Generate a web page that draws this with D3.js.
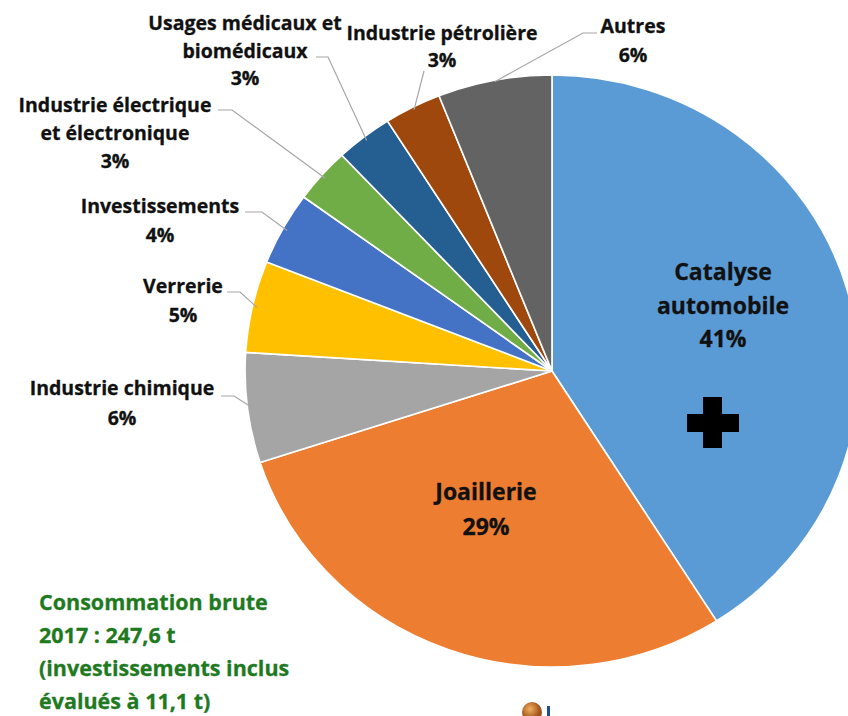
<!DOCTYPE html>
<html>
<head>
<meta charset="utf-8">
<script src="https://cdn.jsdelivr.net/npm/d3@7"></script>
<style>
  html, body { margin: 0; padding: 0; background: #ffffff; }
  svg { display: block; }
  text { font-family: "Open Sans", Lato, sans-serif; font-weight: 700; }
</style>
</head>
<body>
<svg id="chart" width="848" height="716"></svg>
<script>
// Consumption shares by end use (%), clockwise from 12 o'clock
const categories = [
  "Catalyse automobile", "Joaillerie", "Industrie chimique", "Verrerie",
  "Investissements", "Industrie électrique et électronique",
  "Usages médicaux et biomédicaux", "Industrie pétrolière", "Autres"
];
const shares = [41, 29, 6, 5, 4, 3, 3, 3, 6];
const colors = [
  "#5B9BD5", "#ED7D31", "#A5A5A5", "#FFC000", "#4472C4",
  "#70AD47", "#255E91", "#9E480E", "#636363"
];
// Label lines as they are broken on the chart
const labelLines = [
  ["Catalyse", "automobile"],
  ["Joaillerie"],
  ["Industrie chimique"],
  ["Verrerie"],
  ["Investissements"],
  ["Industrie électrique", "et électronique"],
  ["Usages médicaux et", "biomédicaux"],
  ["Industrie pétrolière"],
  ["Autres"]
];
const noteLines = [
  "Consommation brute",
  "2017 : 247,6 t",
  "(investissements inclus",
  "évalués à 11,1 t)"
];

const svg = d3.select("#chart");
const cx = 552, cy = 371, r = 296, sx = 1.037;

const data = categories.map((c, i) => ({ name: c, value: shares[i], color: colors[i], lines: labelLines[i] }));
const pie = d3.pie().value(d => d.value).sort(null);
const arcs = pie(data);
const arc = d3.arc().innerRadius(0).outerRadius(r);

const g = svg.append("g").attr("transform", `translate(${cx},${cy}) scale(${sx},1)`);
g.selectAll("path.slice")
  .data(arcs)
  .join("path")
  .attr("class", "slice")
  .attr("d", arc)
  .attr("fill", d => d.data.color)
  .attr("stroke", "#ffffff")
  .attr("stroke-width", 1.6)
  .attr("stroke-linejoin", "round");

// Point on the (horizontally stretched) rim at a given angle and radius factor
function rim(a, k) {
  return [cx + sx * r * k * Math.sin(a), cy - r * k * Math.cos(a)];
}

// Inside labels for the two large slices
const inside = [
  { i: 0, x: 723, y: 280, lh: 33.5 },
  { i: 1, x: 486, y: 500, lh: 35 }
];
inside.forEach(o => {
  const d = data[o.i];
  const t = svg.append("text").attr("text-anchor", "middle")
    .attr("fill", "#111111").attr("stroke", "#111111").attr("stroke-width", 0.3)
    .style("font-size", "23px");
  d.lines.concat([d.value + "%"]).forEach((s, k) => {
    t.append("tspan").attr("x", o.x).attr("y", o.y + k * o.lh).text(s);
  });
});

// Outside labels: text centre, first baseline, line height, leader start and elbow
const outside = [
  { i: 2, x: 122, y: 395, lh: 30, tx: 221, ex: 234, ey: 396, k: 0.985 },
  { i: 3, x: 183, y: 293, lh: 29, tx: 227, ex: 240, ey: 292, k: 0.985 },
  { i: 4, x: 160, y: 213, lh: 29, tx: 245, ex: 262, ey: 212, k: 0.985 },
  { i: 5, x: 115, y: 112, lh: 28, tx: 218, ex: 232, ey: 110, k: 0.985 },
  { i: 6, x: 245, y: 30, lh: 27.5, tx: 316, ex: 328, ey: 57, k: 0.985 },
  { i: 7, x: 442, y: 40, lh: 27, tx: null, ex: 424, ey: 71, k: 0.99 },
  { i: 8, x: 633, y: 33, lh: 29, tx: 597, ex: 583, ey: 33, k: 0.995 }
];

outside.forEach(o => {
  const d = data[o.i];
  const a = arcs[o.i];
  const mid = (a.startAngle + a.endAngle) / 2;
  const p = rim(mid, o.k);
  const pts = [];
  if (o.tx !== null) pts.push([o.tx, o.ey]);
  pts.push([o.ex, o.ey]);
  pts.push(p);
  svg.append("path")
    .attr("d", d3.line()(pts))
    .attr("fill", "none")
    .attr("stroke", "#a6a6a6")
    .attr("stroke-width", 1.2);

  const t = svg.append("text").attr("text-anchor", "middle")
    .attr("fill", "#111111").attr("stroke", "#111111").attr("stroke-width", 0.3)
    .style("font-size", "19.5px");
  d.lines.concat([d.value + "%"]).forEach((s, k) => {
    t.append("tspan").attr("x", o.x).attr("y", o.y + k * o.lh).text(s);
  });
});

// Cross marker on the automotive slice
const cross = svg.append("g").attr("fill", "#000000");
cross.append("rect").attr("x", 687).attr("y", 414).attr("width", 52).attr("height", 18);
cross.append("rect").attr("x", 703).attr("y", 397).attr("width", 19).attr("height", 51);

// Note on gross consumption
const note = svg.append("text").attr("fill", "#1f7a1f")
  .attr("stroke", "#1f7a1f").attr("stroke-width", 0.3)
  .style("font-size", "21.5px");
noteLines.forEach((s, k) => {
  note.append("tspan").attr("x", 39).attr("y", 610 + k * 33).text(s);
});

// Small emblem at the bottom
const grad = svg.append("defs").append("radialGradient").attr("id", "emblem").attr("cx", "40%").attr("cy", "35%");
grad.append("stop").attr("offset", "0%").attr("stop-color", "#f0b060");
grad.append("stop").attr("offset", "100%").attr("stop-color", "#a0521a");
svg.append("circle").attr("cx", 532).attr("cy", 712).attr("r", 10).attr("fill", "url(#emblem)");
svg.append("rect").attr("x", 547).attr("y", 706).attr("width", 3).attr("height", 10).attr("fill", "#1d4f8a");
</script>
</body>
</html>
